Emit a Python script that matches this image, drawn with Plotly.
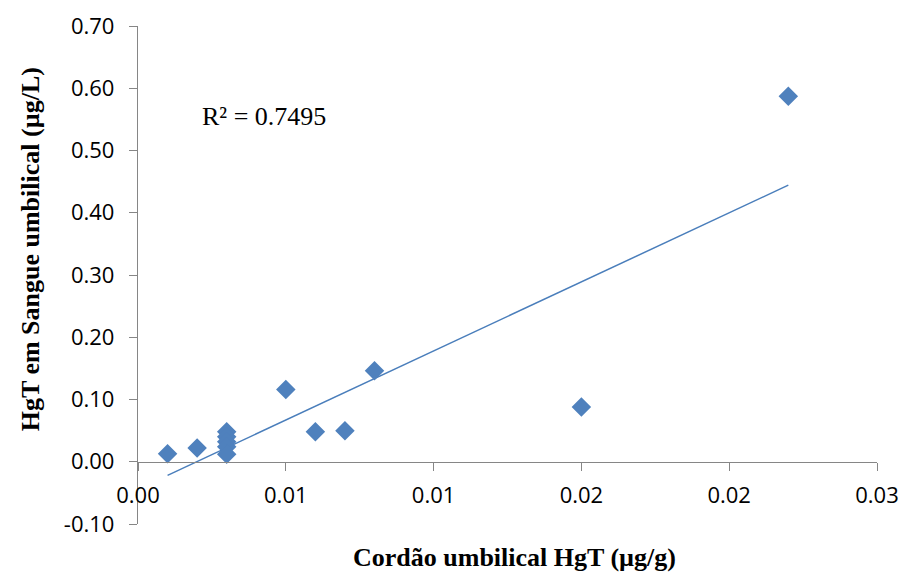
import numpy as np
import plotly.graph_objects as go

# Data
cordao_hgt = [0.001, 0.002, 0.003, 0.003, 0.003, 0.003, 0.003, 0.005, 0.006, 0.007, 0.008, 0.015, 0.022]
sangue_hgt = [0.013, 0.022, 0.048, 0.040, 0.032, 0.024, 0.012, 0.116, 0.048, 0.050, 0.146, 0.088, 0.587]

x_tick_vals = [0.0, 0.005, 0.010, 0.015, 0.020, 0.025]
x_tick_text = ["0.00", "0.01", "0.01", "0.02", "0.02", "0.03"]
y_tick_vals = [-0.10, 0.0, 0.10, 0.20, 0.30, 0.40, 0.50, 0.60, 0.70]
y_tick_text = ["-0.10", "0.00", "0.10", "0.20", "0.30", "0.40", "0.50", "0.60", "0.70"]

r2_label = "R² = 0.7495"
x_title = "Cordão umbilical HgT (µg/g)"
y_title = "HgT em Sangue umbilical (µg/L)"

# Linear trendline (least squares)
slope, intercept = np.polyfit(cordao_hgt, sangue_hgt, 1)
tx = [min(cordao_hgt), max(cordao_hgt)]
ty = [slope * v + intercept for v in tx]

blue = "#4F81BD"
axis_col = "#868686"
tick_font = dict(family="Open Sans", size=22, color="#000000")
serif = "Liberation Serif"

fig = go.Figure()
fig.add_trace(go.Scatter(x=tx, y=ty, mode="lines",
                         line=dict(color="#4A7EBB", width=1.5),
                         hoverinfo="skip", showlegend=False))
fig.add_trace(go.Scatter(x=cordao_hgt, y=sangue_hgt, mode="markers",
                         marker=dict(symbol="diamond", size=15, color=blue,
                                     line=dict(width=0)),
                         showlegend=False))

y_min, y_max = -0.10, 0.70

fig.update_layout(
    width=903, height=575,
    margin=dict(l=138, r=26, t=26, b=51, autoexpand=False),
    paper_bgcolor="white", plot_bgcolor="white",
    xaxis=dict(range=[0, 0.025], tickvals=x_tick_vals, ticktext=x_tick_text,
               anchor="free", position=(0 - y_min) / (y_max - y_min),
               showline=True, linecolor=axis_col, linewidth=1.3,
               ticks="outside", ticklen=8, tickcolor=axis_col, tickwidth=1.3,
               ticklabelstandoff=6,
               showgrid=False, zeroline=False, tickfont=tick_font,
               automargin=False),
    yaxis=dict(range=[y_min, y_max], tickvals=y_tick_vals, ticktext=y_tick_text,
               showline=True, linecolor=axis_col, linewidth=1.3,
               ticks="outside", ticklen=8, tickcolor=axis_col, tickwidth=1.3,
               ticklabelstandoff=10,
               showgrid=False, zeroline=False, tickfont=tick_font,
               automargin=False),
    annotations=[
        dict(text=r2_label, x=0.0021, y=0.555, xref="x", yref="y",
             xanchor="left", yanchor="middle", showarrow=False,
             font=dict(family=serif, size=26, color="#000000")),
        dict(text="<b>" + x_title + "</b>", x=0.509, y=-0.068, xref="paper", yref="paper",
             xanchor="center", yanchor="middle", showarrow=False,
             font=dict(family=serif, size=26, color="#000000")),
        dict(text="<b>" + y_title + "</b>", x=-0.146, y=0.552, xref="paper", yref="paper",
             xanchor="center", yanchor="middle", showarrow=False, textangle=-90,
             font=dict(family=serif, size=26, color="#000000")),
    ],
)

fig.write_html("out.html")
